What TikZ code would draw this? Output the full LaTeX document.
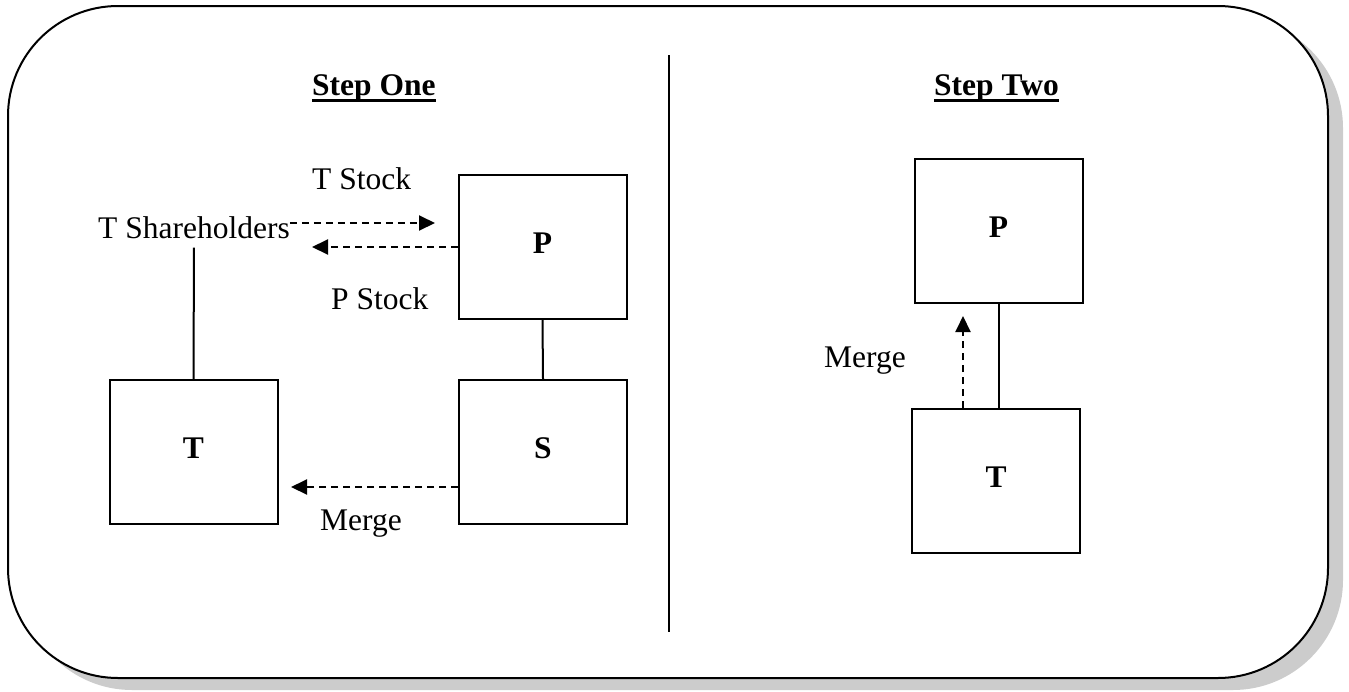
\documentclass[tikz,border=0pt]{standalone}
\usepackage{fontspec}
\setmainfont{Liberation Serif}
\usetikzlibrary{arrows.meta}
\begin{document}
\begin{tikzpicture}[x=1pt,y=-1pt,
  lbl/.style={font=\fontsize{31.5}{36}\selectfont, inner sep=0pt, anchor=base west},
  ttl/.style={font=\fontsize{31.5}{36}\selectfont\bfseries, inner sep=0pt, anchor=base west},
  ent/.style={draw, line width=2pt, minimum width=168pt, minimum height=144pt, inner sep=0pt,
    text height=21pt, text depth=9pt, font=\fontsize{31.5}{36}\selectfont\bfseries},
  conn/.style={line width=2pt},
  uline/.style={line width=3pt},
  flow/.style={line width=2pt, dash pattern=on 7pt off 5pt, -{Triangle[length=16pt,width=15pt]}},
]
\useasboundingbox (0,0) rectangle (1349,691);
% frame with shadow
\fill[gray!40, rounded corners=110pt] (22,18) rectangle (1343,690);
\draw[fill=white, line width=2pt, rounded corners=110pt] (8,6) rectangle (1328,678);
% divider
\draw[conn] (669,55) -- (669,632);

% titles
\node[ttl] (s1) at (312,95) {Step One};
\node[ttl] (s2) at (934,95) {Step Two};
\draw[uline] ([yshift=-5pt]s1.base west) -- ([yshift=-5pt]s1.base east);
\draw[uline] ([yshift=-5pt]s2.base west) -- ([yshift=-5pt]s2.base east);

% step one
\node[ent] (p1) at (542.5,247) {P};
\node[ent] (t1) at (193.5,452) {T};
\node[ent] (s)  at (543,452) {S};
\node[lbl] (tsh) at (98,238) {T Shareholders};
\node[lbl] (tst) at (312,189) {T Stock};
\node[lbl] (pst) at (331,309) {P Stock};
\node[lbl] (mg1) at (320,530) {Merge};
\coordinate (tstip) at (435,223);
\coordinate (pstip) at (312,247);
\coordinate (m1tip) at (291,487);

\draw[conn] ([yshift=-9pt]tsh.south) -- (t1.north);
\draw[conn] (p1.south) -- (s.north);
\draw[flow] ([yshift=15pt]tsh.base east) -- (tstip);
\draw[flow] (p1.west) -- (pstip);
\draw[flow] ([yshift=-35pt]s.west) -- (m1tip);

% step two
\node[ent] (p2) at (998.5,231) {P};
\node[ent] (t2) at (996,481) {T};
\node[lbl] (mg2) at (824,367) {Merge};
\coordinate (m2tip) at (963,316);
\draw[conn] (p2.south) -- (p2.south |- t2.north);
\draw[flow] ([xshift=-33pt]t2.north) -- (m2tip);
\end{tikzpicture}
\end{document}
